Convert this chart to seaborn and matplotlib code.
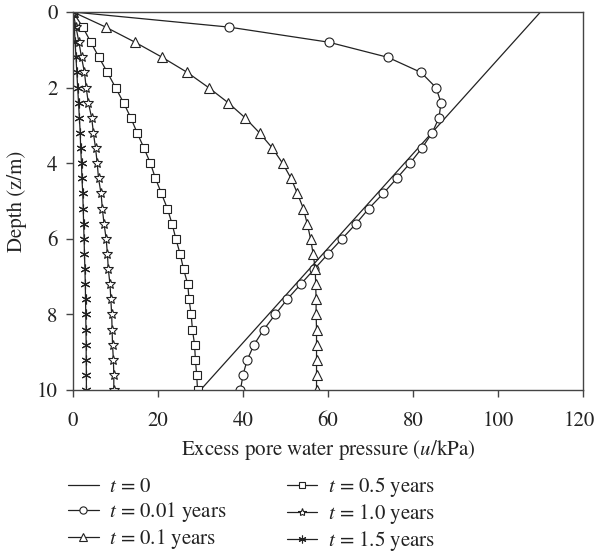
import numpy as np
import pandas as pd
import matplotlib
matplotlib.use("Agg")
import matplotlib.pyplot as plt
import matplotlib.transforms as mtransforms
import seaborn as sns

depth = [round(0.4 * i, 1) for i in range(26)]

u_t0_depth = [0.0, 10.0]
u_t0 = [110.0, 30.0]

u_t001 = [0, 36.7, 60.2, 74.1, 81.9, 85.4, 86.6, 86.1, 84.5, 82.1, 79.3, 76.2, 73.0,
          69.6, 66.6, 63.3, 60.0, 56.8, 53.6, 50.4, 47.6, 44.9, 42.6, 41.0, 40.0, 39.4]
u_t01 = [0, 7.7, 14.6, 21.0, 26.9, 31.9, 36.5, 40.5, 43.9, 46.9, 49.3, 51.3, 52.8,
         54.2, 55.1, 55.9, 56.5, 57.0, 57.1, 57.2, 57.2, 57.3, 57.3, 57.3, 57.3, 57.3]
u_t05 = [0, 2.3, 4.2, 6.1, 8.1, 10.0, 11.9, 13.6, 15.1, 16.7, 18.2, 19.4, 20.8,
         22.2, 23.3, 24.2, 25.2, 26.0, 27.0, 27.3, 27.8, 28.1, 28.6, 28.8, 29.1, 29.3]
u_t10 = [0, 0.7, 1.4, 2.0, 2.7, 3.1, 3.6, 4.4, 4.8, 5.3, 5.7, 6.0, 6.6,
         6.9, 7.3, 7.8, 8.1, 8.3, 8.7, 8.9, 9.1, 9.2, 9.3, 9.5, 9.6, 9.6]
u_t15 = [0, 0.3, 0.5, 0.7, 0.9, 1.1, 1.3, 1.5, 1.7, 1.8, 2.0, 2.1, 2.3,
         2.4, 2.5, 2.6, 2.7, 2.8, 2.9, 2.95, 3.0, 3.05, 3.1, 3.1, 3.15, 3.15]

labels = ["$t$ = 0", "$t$ = 0.01 years", "$t$ = 0.1 years",
          "$t$ = 0.5 years", "$t$ = 1.0 years", "$t$ = 1.5 years"]

sns.set_theme(style="white")
plt.rcParams["font.family"] = ["STIXGeneral", "DejaVu Serif"]
plt.rcParams["mathtext.fontset"] = "stix"

FS = 15

fig = plt.figure(figsize=(5.94, 5.52), dpi=100)
ax = fig.add_axes([0.1229, 0.2935, 0.8586, 0.6848])

lc = "#222222"
common = dict(ax=ax, sort=False, estimator=None, color=lc, linewidth=0.9)
mk = dict(markerfacecolor="white", markeredgecolor=lc, markeredgewidth=0.8)

sns.lineplot(x=u_t0, y=u_t0_depth, label=labels[0], **common)
sns.lineplot(x=u_t001, y=depth, label=labels[1], marker="o", markersize=6.5, **mk, **common)
sns.lineplot(x=u_t01, y=depth, label=labels[2], marker="^", markersize=7.5, **mk, **common)
sns.lineplot(x=u_t05, y=depth, label=labels[3], marker="s", markersize=5.2, **mk, **common)
sns.lineplot(x=u_t10, y=depth, label=labels[4], marker="*", markersize=7.5, **mk, **common)
sns.lineplot(x=u_t15, y=depth, label=labels[5], marker=(6, 2, 0), markersize=7, **mk, **common)

ax.set_xlim(0, 120)
ax.set_ylim(10, 0)
ax.set_xticks([0, 20, 40, 60, 80, 100, 120])
ax.set_yticks([0, 2, 4, 6, 8, 10])
for s in ax.spines.values():
    s.set_color("#444444")
    s.set_linewidth(1.0)
ax.tick_params(axis="both", which="both", direction="out", length=5, width=1.0,
               color="#444444", labelsize=FS, labelcolor="#222222", left=True, bottom=True)
ax.tick_params(axis="x", pad=10.5)
ax.tick_params(axis="y", pad=6)
ax.set_xlabel("Excess pore water pressure ($u$/kPa)", fontsize=FS, color="#222222", labelpad=4.5)
ax.set_ylabel("Depth (z/m)", fontsize=FS, color="#222222", labelpad=7)

# nudge the last x tick label slightly left so it stays inside the figure
last = ax.get_xticklabels()[-1]
last.set_transform(last.get_transform() + mtransforms.ScaledTranslation(-4 / 100, 0, fig.dpi_scale_trans))

handles, labs = ax.get_legend_handles_labels()
ax.get_legend().remove()
fig.legend(handles, labs, ncol=2, loc="upper left", bbox_to_anchor=(0.087, 0.169),
           frameon=False, fontsize=FS, handlelength=1.45, labelspacing=0.13,
           columnspacing=2.9, handletextpad=0.5, markerscale=0.8,
           borderpad=0.3, labelcolor="#222222")

fig.savefig("out.png", dpi=100)
